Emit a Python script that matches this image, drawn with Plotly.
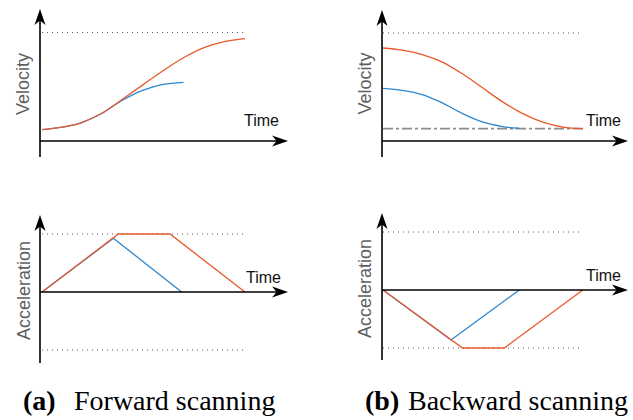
import plotly.graph_objects as go

W, H = 633, 420

# ---------------- data ----------------
# (a) Forward scanning: velocity (normalised so that the max-velocity limit = 1)
fwd_vel_time_long = [0.1, 1, 2, 3, 4, 5, 6, 7, 8, 9, 10]
fwd_vel_long = [0.104, 0.125, 0.168, 0.253, 0.383, 0.515, 0.648, 0.767, 0.861, 0.916, 0.943]
fwd_vel_time_short = [0.1, 1, 2, 3, 4, 5, 6, 7]
fwd_vel_short = [0.104, 0.125, 0.168, 0.253, 0.373, 0.466, 0.522, 0.541]

# (b) Backward scanning: velocity
bwd_vel_time_long = [0.05, 1, 2, 3, 4, 5, 6, 7, 8, 9, 10]
bwd_vel_long = [0.861, 0.841, 0.800, 0.731, 0.622, 0.493, 0.362, 0.253, 0.174, 0.129, 0.114]
bwd_vel_time_short = [0.05, 1, 2, 3, 4, 5, 6, 6.8]
bwd_vel_short = [0.488, 0.469, 0.430, 0.353, 0.255, 0.176, 0.133, 0.118]
bwd_floor_time = [0.05, 10]
bwd_floor_vel = [0.114, 0.114]

# (a) Forward scanning: acceleration (normalised, limits = +/-1)
fwd_acc_time_long = [0.1, 3.82, 6.34, 10.0]
fwd_acc_long = [0, 1, 1, 0]
fwd_acc_time_short = [0.1, 3.58, 6.91]
fwd_acc_short = [0, 0.926, 0]

# (b) Backward scanning: acceleration
bwd_acc_time_long = [0.05, 4.01, 6.08, 9.99]
bwd_acc_long = [0, -1, -1, 0]
bwd_acc_time_short = [0.05, 3.43, 6.83]
bwd_acc_short = [0, -0.862, 0]

# limit lines
vel_limit = 1.0
acc_limits = [1.0, -1.0]
limit_span_a = [0.1, 10.0]
limit_span_b = [0.05, 9.9]

captions = [("(a)", "Forward scanning"), ("(b)", "Backward scanning")]
value_labels = ["Velocity", "Acceleration"]
time_label = "Time"

ORANGE = "#E8592B"
BLUE = "#2E86CC"

# ---------------- panel geometry (pixel origin, scale, domain) ----------------
panels = [
    dict(ox=40, oy=141, sx=20.5, sy=108.5, px=(0, 316), py=(0, 178), t_end=12.1, y_lo=-0.147, y_hi=1.217),
    dict(ox=382, oy=141, sx=20.1, sy=108.0, px=(316, 633), py=(0, 178), t_end=12.24, y_lo=-0.148, y_hi=1.213),
    dict(ox=40, oy=292, sx=20.5, sy=58.0, px=(0, 316), py=(188, 372), t_end=12.1, y_lo=-1.224, y_hi=1.328),
    dict(ox=382, oy=290, sx=20.1, sy=58.0, px=(316, 633), py=(188, 372), t_end=12.24, y_lo=-1.207, y_hi=1.328),
]

fig = go.Figure()
layout_axes = {}
for i, p in enumerate(panels):
    n = "" if i == 0 else str(i + 1)
    xr = [(p["px"][0] - p["ox"]) / p["sx"], (p["px"][1] - p["ox"]) / p["sx"]]
    yr = [(p["oy"] - p["py"][1]) / p["sy"], (p["oy"] - p["py"][0]) / p["sy"]]
    layout_axes["xaxis" + n] = dict(domain=[p["px"][0] / W, p["px"][1] / W], range=xr,
                                   visible=False, fixedrange=True, anchor="y" + n)
    layout_axes["yaxis" + n] = dict(domain=[1 - p["py"][1] / H, 1 - p["py"][0] / H], range=yr,
                                   visible=False, fixedrange=True, anchor="x" + n)
    p["xref"] = "x" + n
    p["yref"] = "y" + n


def add_line(panel_idx, xs, ys, color, width=1.3, dash=None, shape="linear"):
    p = panels[panel_idx]
    fig.add_trace(go.Scatter(x=xs, y=ys, mode="lines",
                             line=dict(color=color, width=width, dash=dash, shape=shape),
                             xaxis=p["xref"], yaxis=p["yref"], hoverinfo="skip", showlegend=False))


DOT = "1px,4px"
GRAY_DOT = "#555555"

# limit lines (dotted)
add_line(0, limit_span_a, [vel_limit, vel_limit], GRAY_DOT, 1, DOT)
add_line(1, limit_span_b, [vel_limit, vel_limit], GRAY_DOT, 1, DOT)
for a in acc_limits:
    add_line(2, limit_span_a, [a, a], GRAY_DOT, 1, DOT)
    add_line(3, limit_span_b, [a, a], GRAY_DOT, 1, DOT)

# minimum velocity (dash-dot) in backward scanning
add_line(1, bwd_floor_time, bwd_floor_vel, "#8C8C8C", 1.8, "10px,3px,3px,3px")

# curves: blue first, orange on top
add_line(0, fwd_vel_time_short, fwd_vel_short, BLUE, 1.3, shape="spline")
add_line(0, fwd_vel_time_long, fwd_vel_long, ORANGE, 1.3, shape="spline")
add_line(1, bwd_vel_time_short, bwd_vel_short, BLUE, 1.3, shape="spline")
add_line(1, bwd_vel_time_long, bwd_vel_long, ORANGE, 1.3, shape="spline")
add_line(2, fwd_acc_time_short, fwd_acc_short, BLUE, 1.3)
add_line(2, fwd_acc_time_long, fwd_acc_long, ORANGE, 1.3)
add_line(3, bwd_acc_time_short, bwd_acc_short, BLUE, 1.3)
add_line(3, bwd_acc_time_long, bwd_acc_long, ORANGE, 1.3)

# axes drawn as arrows
shapes = []
for p in panels:
    # horizontal time axis
    shapes.append(dict(type="line", xref=p["xref"], yref=p["yref"], x0=0, x1=p["t_end"] - 8 / p["sx"],
                       y0=0, y1=0, line=dict(color="black", width=1.6)))
    shapes.append(dict(type="path", xref=p["xref"], yref=p["yref"], xsizemode="pixel", ysizemode="pixel",
                       xanchor=p["t_end"], yanchor=0, path="M0,0 L-16,5.5 L-11.5,0 L-16,-5.5 Z",
                       fillcolor="black", line=dict(width=0)))
    # vertical value axis
    shapes.append(dict(type="line", xref=p["xref"], yref=p["yref"], x0=0, x1=0,
                       y0=p["y_lo"], y1=p["y_hi"] - 8 / p["sy"], line=dict(color="black", width=1.6)))
    shapes.append(dict(type="path", xref=p["xref"], yref=p["yref"], xsizemode="pixel", ysizemode="pixel",
                       xanchor=0, yanchor=p["y_hi"], path="M0,0 L5.5,-16 L0,-11.5 L-5.5,-16 Z",
                       fillcolor="black", line=dict(width=0)))

annotations = []


def txt(text, xpx, ypx, size, color, family, angle=0, xanchor="center"):
    annotations.append(dict(text=text, x=xpx / W, y=1 - ypx / H, xref="paper", yref="paper",
                            showarrow=False, xanchor=xanchor, yanchor="middle", textangle=angle,
                            font=dict(size=size, color=color, family=family)))


SANS = "Liberation Sans, Arial, sans-serif"
SERIF = "Liberation Serif, Times New Roman, serif"

# Time labels
for (xpx, ypx) in [(261, 120.5), (603, 120), (263, 277), (603.5, 275)]:
    txt(time_label, xpx, ypx, 16, "#111111", SANS)

# value labels
txt(value_labels[0], 23, 84, 18, "#606060", SANS, -90)
txt(value_labels[0], 364.5, 84, 18, "#606060", SANS, -90)
txt(value_labels[1], 23.5, 290.5, 18, "#606060", SANS, -90)
txt(value_labels[1], 364.5, 288.5, 18, "#606060", SANS, -90)

# captions
txt("<b>%s</b>" % captions[0][0], 21, 400.5, 28, "black", SERIF, xanchor="left")
txt(captions[0][1], 72, 400.5, 28, "black", SERIF, xanchor="left")
txt("<b>%s</b>" % captions[1][0], 363, 400.5, 28, "black", SERIF, xanchor="left")
txt(captions[1][1], 406, 400.5, 28, "black", SERIF, xanchor="left")

fig.update_layout(width=W, height=H, margin=dict(l=0, r=0, t=0, b=0),
                  paper_bgcolor="white", plot_bgcolor="white", showlegend=False,
                  shapes=shapes, annotations=annotations, **layout_axes)

fig.write_html("out.html", config={"displayModeBar": False},
               post_script="document.body.style.margin='0';document.body.style.overflow='hidden';")
